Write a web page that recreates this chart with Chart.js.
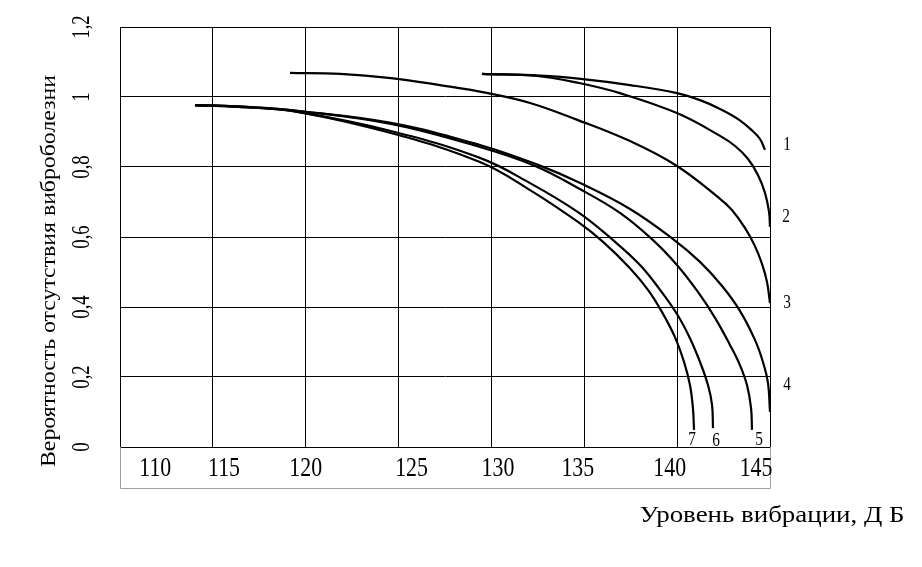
<!DOCTYPE html>
<html>
<head>
<meta charset="utf-8">
<script src="https://cdn.jsdelivr.net/npm/chart.js@4"></script>
<style>
  html, body { margin: 0; padding: 0; background: #fff; }
</style>
</head>
<body>
<canvas id="chart" width="922" height="567"></canvas>
<script>
// axis ranges and tick labels
const xTicks = [110, 115, 120, 125, 130, 135, 140, 145];
const xTickLabels = ['110', '115', '120', '125', '130', '135', '140', '145'];
// where each x label sits in the original (they are not centred on the grid)
const xLabelAt = [111.9, 115.6, 120.0, 125.7, 130.35, 134.65, 139.6, 144.25];
const yTicks = [0, 0.2, 0.4, 0.6, 0.8, 1, 1.2];
const yTickLabels = ['0', '0,2', '0,4', '0,6', '0,8', '1', '1,2'];

// curves: [vibration level dB, probability]
const curve1 = [[129.49, 1.066], [132.62, 1.061], [134.93, 1.051], [137.46, 1.034], [139.99, 1.011],
  [141.23, 0.991], [142.31, 0.966], [143.28, 0.937], [144.00, 0.906], [144.46, 0.880], [144.73, 0.849]];
const curve2 = [[129.49, 1.066], [132.45, 1.060], [134.72, 1.040], [136.92, 1.011], [139.99, 0.954],
  [142.31, 0.889], [143.12, 0.860], [143.82, 0.823], [144.35, 0.777], [144.73, 0.726],
  [144.95, 0.671], [145.0, 0.629]];
const curve3 = [[119.15, 1.069], [121.85, 1.066], [124.59, 1.054], [127.23, 1.034], [129.82, 1.011],
  [132.08, 0.983], [134.66, 0.934], [137.46, 0.874], [139.99, 0.803], [142.31, 0.709],
  [142.95, 0.677], [143.65, 0.626], [144.19, 0.574], [144.57, 0.523], [144.84, 0.471], [145.0, 0.411]];
const curve4 = [[114.04, 0.977], [117.0, 0.971], [119.64, 0.960], [124.59, 0.926], [129.38, 0.863],
  [132.51, 0.806], [134.66, 0.757], [137.46, 0.680], [139.78, 0.594], [141.23, 0.529],
  [142.42, 0.460], [143.38, 0.389], [144.19, 0.306], [144.62, 0.243], [144.89, 0.183], [145.0, 0.100]];
const curve5 = [[114.04, 0.977], [117.0, 0.971], [119.64, 0.960], [124.59, 0.923], [129.38, 0.857],
  [132.35, 0.803], [134.66, 0.740], [136.92, 0.669], [138.70, 0.591], [139.99, 0.520],
  [141.12, 0.443], [142.04, 0.369], [142.85, 0.291], [143.38, 0.234], [143.76, 0.177],
  [143.98, 0.111], [144.03, 0.049]];
const curve6 = [[114.04, 0.977], [117.0, 0.970], [119.64, 0.957], [124.59, 0.903], [129.38, 0.826],
  [132.08, 0.754], [134.66, 0.671], [136.55, 0.591], [138.0, 0.520], [139.08, 0.449],
  [139.99, 0.380], [140.69, 0.311], [141.23, 0.243], [141.66, 0.177], [141.88, 0.120], [141.93, 0.054]];
const curve7 = [[114.04, 0.977], [117.0, 0.970], [119.64, 0.957], [124.59, 0.897], [129.38, 0.814],
  [132.08, 0.734], [134.66, 0.643], [136.01, 0.586], [137.46, 0.511], [138.43, 0.449],
  [139.18, 0.386], [139.88, 0.314], [140.37, 0.243], [140.69, 0.177], [140.85, 0.111], [140.91, 0.049]];
const curves = [curve1, curve2, curve3, curve4, curve5, curve6, curve7];
const curveNames = ['1', '2', '3', '4', '5', '6', '7'];
const curveNameAt = [[145.92, 0.866], [145.86, 0.66], [145.92, 0.414], [145.92, 0.18],
  [144.41, 0.023], [142.09, 0.02], [140.80, 0.023]];

const FONT = '"Liberation Serif", "Times New Roman", serif';

function txt(ctx, s, x, y, o) {
  ctx.save();
  ctx.translate(x, y);
  if (o.rot) ctx.rotate(o.rot);
  ctx.font = o.size + 'px ' + FONT;
  let sx = o.sx || 1;
  if (o.width) sx = o.width / ctx.measureText(s).width;
  ctx.scale(sx, o.sy || 1);
  ctx.textAlign = 'center';
  ctx.textBaseline = 'alphabetic';
  ctx.fillStyle = '#000';
  ctx.fillText(s, 0, 0);
  ctx.restore();
}

const textPlugin = {
  id: 'texts',
  afterDraw(chart) {
    const { ctx, chartArea: a, scales: { x, y } } = chart;
    // gray box under the plot holding the x labels
    ctx.save();
    ctx.strokeStyle = '#a0a0a0';
    ctx.lineWidth = 1;
    ctx.beginPath();
    ctx.moveTo(a.left + 0.5, a.bottom);
    ctx.lineTo(a.left + 0.5, a.bottom + 41.5);
    ctx.lineTo(a.right + 0.5, a.bottom + 41.5);
    ctx.lineTo(a.right + 0.5, a.bottom);
    ctx.stroke();
    ctx.restore();

    xTickLabels.forEach((s, i) => {
      txt(ctx, s, x.getPixelForValue(xLabelAt[i]), a.bottom + 29, { size: 28, sx: 0.78 });
    });
    yTickLabels.forEach((s, i) => {
      txt(ctx, s, 89, y.getPixelForValue(yTicks[i]), { size: 26, sx: 0.72, rot: -Math.PI / 2 });
    });
    txt(ctx, 'Вероятность отсутствия виброболезни', 55, 271, { size: 20, width: 392, rot: -Math.PI / 2 });
    txt(ctx, 'Уровень вибрации, Д Б', 772, 522, { size: 24, width: 265 });

    curveNames.forEach((s, i) => {
      const [vx, vy] = curveNameAt[i];
      txt(ctx, s, x.getPixelForValue(vx), y.getPixelForValue(vy) + 6, { size: 18, sx: 0.85 });
    });
  }
};

const ctx = document.getElementById('chart').getContext('2d');
new Chart(ctx, {
  type: 'line',
  data: {
    datasets: curves.map((c, i) => ({
      label: curveNames[i],
      data: c.map(([vx, vy]) => ({ x: vx, y: vy })),
      borderColor: '#000',
      borderWidth: 2.2,
      pointRadius: 0,
      fill: false,
      tension: 0.4
    }))
  },
  options: {
    responsive: false,
    animation: false,
    devicePixelRatio: 1,
    layout: { padding: { top: 27, right: 152, left: 0, bottom: 0 } },
    plugins: { legend: { display: false }, tooltip: { enabled: false } },
    scales: {
      x: {
        type: 'linear',
        min: 110,
        max: 145,
        afterBuildTicks: s => { s.ticks = xTicks.map(v => ({ value: v })); },
        afterFit: s => { s.height = 120; },
        ticks: { display: false },
        grid: { color: '#000', lineWidth: 1, drawTicks: false },
        border: { color: '#000', width: 1 }
      },
      y: {
        type: 'linear',
        min: 0,
        max: 1.2,
        afterBuildTicks: s => { s.ticks = yTicks.map(v => ({ value: v })); },
        afterFit: s => { s.width = 120; },
        ticks: { display: false },
        grid: { color: '#000', lineWidth: 1, drawTicks: false },
        border: { color: '#000', width: 1 }
      }
    }
  },
  plugins: [textPlugin]
});
</script>
</body>
</html>
